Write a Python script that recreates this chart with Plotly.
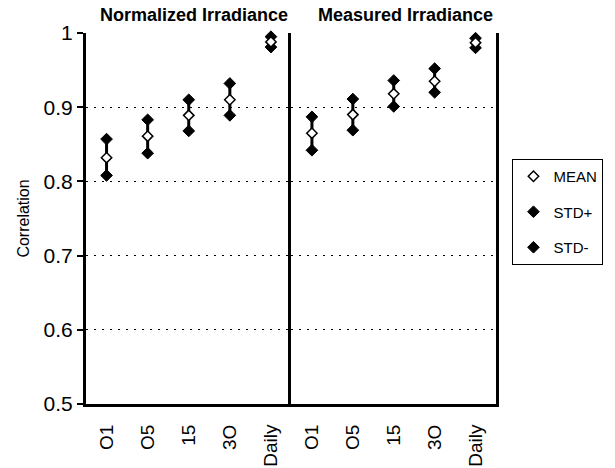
import plotly.graph_objects as go

categories = ["O1", "O5", "15", "3O", "Daily"]
panels = ["Normalized Irradiance", "Measured Irradiance"]

norm_mean = [0.832, 0.861, 0.889, 0.910, 0.988]
norm_std_plus = [0.857, 0.883, 0.910, 0.932, 0.995]
norm_std_minus = [0.808, 0.838, 0.868, 0.889, 0.981]

meas_mean = [0.865, 0.890, 0.918, 0.935, 0.987]
meas_std_plus = [0.887, 0.911, 0.936, 0.952, 0.993]
meas_std_minus = [0.842, 0.869, 0.901, 0.920, 0.980]

y_ticks = [0.5, 0.6, 0.7, 0.8, 0.9, 1.0]
y_ticktext = ["0.5", "0.6", "0.7", "0.8", "0.9", "1"]

FONT = "Arial, Liberation Sans, Helvetica, sans-serif"

fig = go.Figure()

datasets = [
    ("x", "y", norm_mean, norm_std_plus, norm_std_minus, True),
    ("x2", "y2", meas_mean, meas_std_plus, meas_std_minus, False),
]

for xa, ya, mean, sp, sm, show in datasets:
    fig.add_trace(go.Scatter(
        x=categories, y=sp, xaxis=xa, yaxis=ya, mode="markers", name="STD+",
        legendgroup="b", legendrank=2, showlegend=show, cliponaxis=False,
        marker=dict(symbol="diamond", size=9, color="black",
                    line=dict(color="black", width=1)),
    ))
    fig.add_trace(go.Scatter(
        x=categories, y=sm, xaxis=xa, yaxis=ya, mode="markers", name="STD-",
        legendgroup="c", legendrank=3, showlegend=show, cliponaxis=False,
        marker=dict(symbol="diamond", size=9, color="black",
                    line=dict(color="black", width=1)),
    ))
    fig.add_trace(go.Scatter(
        x=categories, y=mean, xaxis=xa, yaxis=ya, mode="markers", name="MEAN",
        legendgroup="a", legendrank=1, showlegend=show, cliponaxis=False,
        error_y=dict(type="data", symmetric=False,
                     array=[p - m for p, m in zip(sp, mean)],
                     arrayminus=[m - n for m, n in zip(mean, sm)],
                     color="black", thickness=3, width=0),
        marker=dict(symbol="diamond", size=8, color="white",
                    line=dict(color="black", width=1.5)),
    ))

L, R, T, B = 86, 106, 33, 64
W, H = 615, 468
split = (298 - L) / (W - L - R)

xcommon = dict(type="category", showline=True, linewidth=3, linecolor="black",
               ticks="", tickangle=-90, showgrid=False, zeroline=False,
               ticklabelstandoff=10, automargin=False,
               tickfont=dict(family=FONT, size=19, color="black"),
               range=[-0.5, 4.5])
ycommon = dict(range=[0.5, 1.0], tickvals=y_ticks, showline=True, linewidth=3,
               linecolor="black", showgrid=True, gridcolor="black", gridwidth=1.2,
               griddash="2px,6px", zeroline=False, automargin=False)

fig.update_layout(
    width=W, height=H,
    margin=dict(l=L, r=R, t=T, b=B),
    paper_bgcolor="white", plot_bgcolor="white",
    font=dict(family=FONT, color="black"),
    xaxis=dict(domain=[0, split], anchor="y", **xcommon),
    xaxis2=dict(domain=[split, 1], anchor="y2", **xcommon),
    yaxis=dict(anchor="x", ticktext=y_ticktext, ticks="outside", ticklen=6,
               tickwidth=2, tickcolor="black",
               tickfont=dict(family=FONT, size=21, color="black"),
               title=dict(text="Correlation", font=dict(family=FONT, size=16, color="black"),
                          standoff=10),
               **ycommon),
    yaxis2=dict(anchor="x2", matches="y", showticklabels=False, ticks="",
                mirror=True, **ycommon),
    legend=dict(x=(526 - L) / (W - L - R), y=(404 - 159) / (404 - 33),
                xanchor="left", yanchor="top",
                bordercolor="black", borderwidth=1, bgcolor="white",
                font=dict(family=FONT, size=15, color="black"),
                tracegroupgap=13, traceorder="grouped"),
)

title_centers = [197, 416]
for name, cx in zip(panels, title_centers):
    fig.add_annotation(
        text="<b>" + name + "</b>", xref="paper", yref="paper",
        x=(cx - L) / (W - L - R), y=(404 - 15) / (404 - 33),
        xanchor="center", yanchor="middle", showarrow=False,
        font=dict(family=FONT, size=18, color="black"),
    )

fig.write_html("out.html")
